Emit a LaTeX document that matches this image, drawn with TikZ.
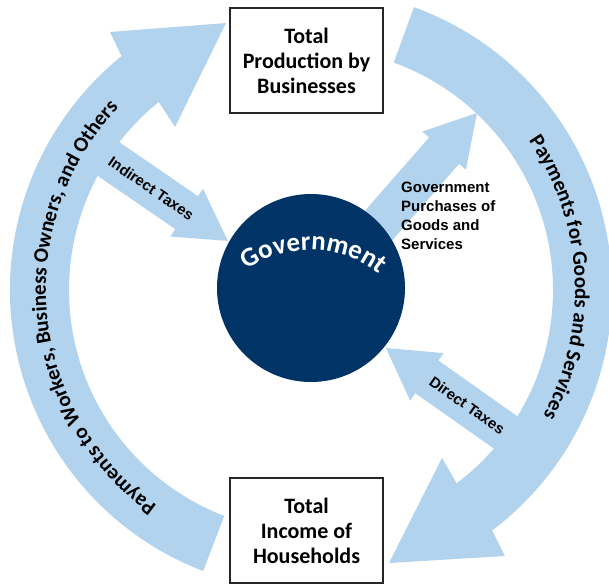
\documentclass[tikz,border=0pt]{standalone}
\usepackage{fontspec}
\setmainfont{Carlito}
\newfontfamily\labfont{Liberation Sans}
\usetikzlibrary{calc,decorations.text}
\definecolor{ringblue}{RGB}{178,211,238}
\definecolor{govnavy}{RGB}{0,51,102}
\tikzset{
  flow/.style={fill=ringblue, draw=none},
  box/.style={draw=black!85, line width=1.2pt, fill=white, minimum width=153pt,
    minimum height=105pt, align=center, inner sep=0pt,
    font=\bfseries\fontsize{22}{25}\selectfont},
  govlabel/.style={font=\labfont\bfseries\fontsize{15}{19}\selectfont, inner sep=0pt},
}
\newcommand\fatarrow[2]{%
  \coordinate (fab) at ($(#2)!50pt!(#1)$);
  \fill[flow] ($(#1)!20pt!90:(#2)$) -- ($(fab)!20pt!90:(#2)$) -- ($(fab)!29pt!90:(#2)$)
     -- (#2) -- ($(fab)!29pt!-90:(#2)$) -- ($(fab)!20pt!-90:(#2)$) -- ($(#1)!20pt!-90:(#2)$) -- cycle;
}
\begin{document}
\begin{tikzpicture}[x=1pt,y=1pt]
\useasboundingbox (-311,-294) rectangle (298,290);
% big ring arrows
\fill[flow] (249:301) arc[start angle=249, end angle=129, radius=301]
  -- (-201,258) -- (-85,267) -- (-136,163)
  -- (129:242) arc[start angle=129, end angle=249, radius=242] -- cycle;
\fill[flow] (70:301) arc[start angle=70, end angle=-53, radius=301]
  -- (194,-266) -- (78,-273) -- (131,-168)
  -- (-53:242) arc[start angle=-53, end angle=70, radius=242] -- cycle;
% straight arrows
\coordinate (indS) at (-217.5,141.3); \coordinate (indT) at (-83.2,49.1);
\coordinate (purS) at (54.1,49);      \coordinate (purT) at (166,177);
\coordinate (dirS) at (210.3,-153.5); \coordinate (dirT) at (75,-58);
\fatarrow{indS}{indT}
\fatarrow{purS}{purT}
\fatarrow{dirS}{dirT}
% government
\node[circle, fill=govnavy, minimum size=188pt, inner sep=0pt] (gov) at (0,2) {};
\coordinate (govc) at (-1,-72);
\path[decorate, decoration={text along path, text align=center, text color=white,
  text={|\bfseries\fontsize{27}{27}\selectfont|Government}}]
  ($(govc)+(150:112)$) arc[start angle=150, end angle=26, radius=112];
% ring texts
\path[decorate, decoration={text along path, text align=center,
  text={|\bfseries\fontsize{21}{21}\selectfont|Payments to Workers, Business Owners, and Others}}]
  (255:265) arc[start angle=255, end angle=116, radius=265];
\path[decorate, decoration={text along path, text align=center,
  text={|\bfseries\fontsize{21}{21}\selectfont|Payments for Goods and Services}}]
  (60:264) arc[start angle=60, end angle=-54, radius=264];
% arrow labels
\node[govlabel, rotate=-34.5] (indlab) at ($(indS)!0.43!(indT)$) {Indirect Taxes};
\node[govlabel, rotate=-35.2] (dirlab) at ($(dirS)!0.40!(dirT)$) {Direct Taxes};
\node[govlabel, anchor=north west, align=left] (purlab) at (90,108.5)
  {Government\\Purchases of\\Goods and\\Services};
% boxes
\node[box] (prod) at (-4.5,229.5) {Total\\Production by\\Businesses};
\node[box] (inc) at (-4.5,-240.5) {Total\\Income of\\Households};
\end{tikzpicture}
\end{document}
